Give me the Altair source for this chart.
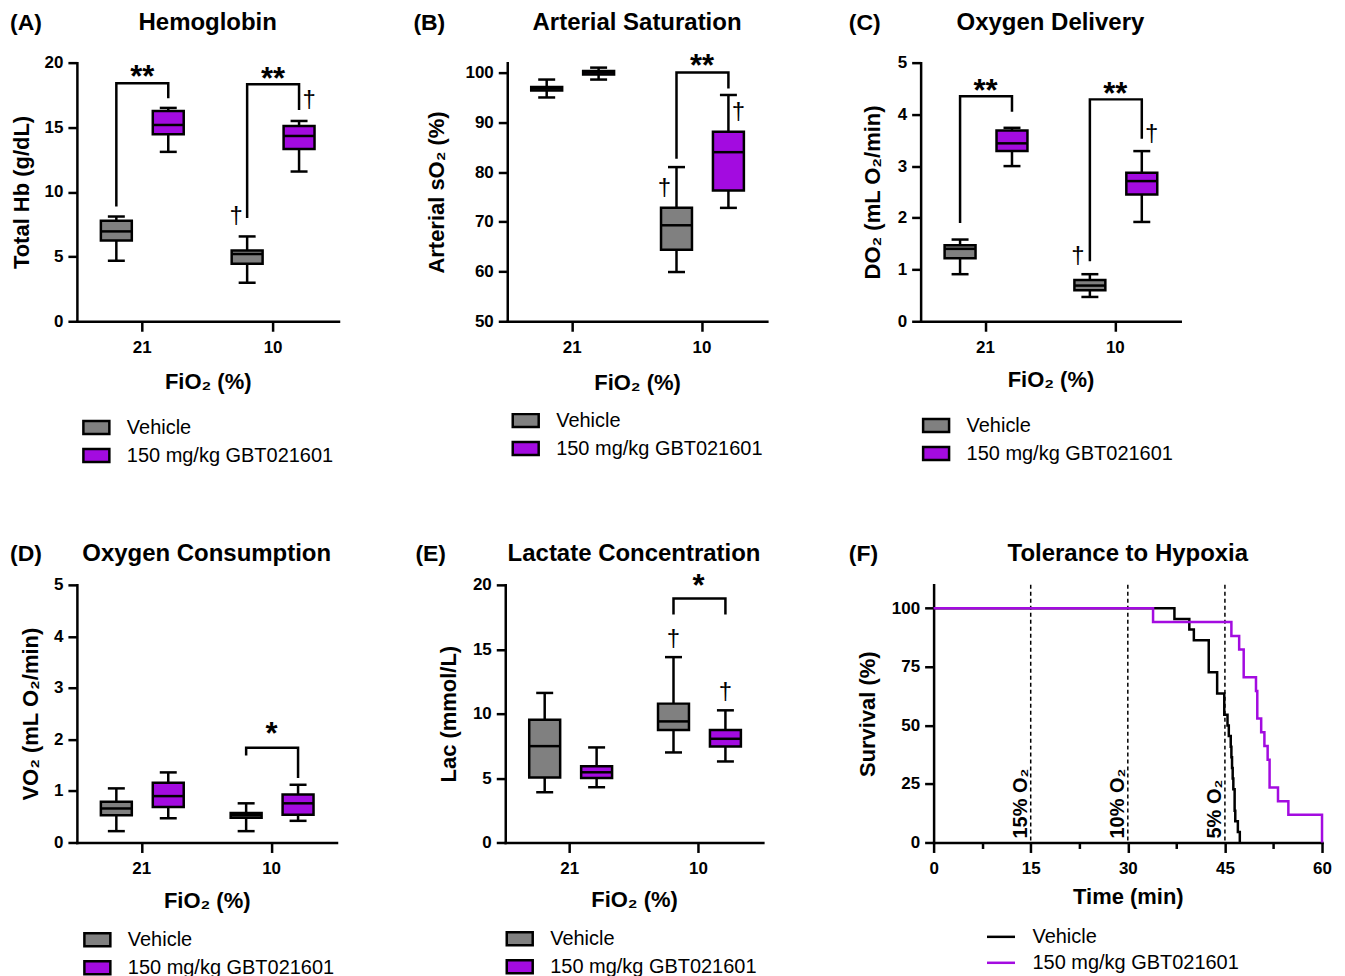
import altair as alt
import pandas as pd

FONT = "Liberation Sans"
GRAY = "#808080"
PURPLE = "#A30BE0"
VEH = "Vehicle"
GBT = "150 mg/kg GBT021601"
GROUPS = [VEH, GBT]
FIO2 = ["21", "10"]

# box order: (21, Vehicle), (21, GBT), (10, Vehicle), (10, GBT)
BOX_FIO2 = ["21", "21", "10", "10"]
BOX_GROUP = [VEH, GBT, VEH, GBT]

HB_MIN = [4.68, 13.1, 2.98, 11.58]
HB_Q1 = [6.25, 14.46, 4.45, 13.33]
HB_MED = [6.95, 15.18, 5.2, 14.33]
HB_Q3 = [7.77, 16.26, 5.48, 15.1]
HB_MAX = [8.1, 16.5, 6.56, 15.49]

SAT_MIN = [95.0, 98.6, 59.9, 72.8]
SAT_Q1 = [96.4, 99.6, 64.4, 76.3]
SAT_MED = [96.8, 100.0, 69.3, 84.0]
SAT_Q3 = [97.1, 100.3, 72.8, 88.1]
SAT_MAX = [98.6, 101.0, 81.0, 95.5]

DO2_MIN = [0.91, 3.0, 0.47, 1.92]
DO2_Q1 = [1.22, 3.29, 0.60, 2.45]
DO2_MED = [1.40, 3.44, 0.69, 2.71]
DO2_Q3 = [1.47, 3.69, 0.80, 2.87]
DO2_MAX = [1.58, 3.74, 0.91, 3.29]

VO2_MIN = [0.22, 0.47, 0.22, 0.42]
VO2_Q1 = [0.53, 0.69, 0.48, 0.54]
VO2_MED = [0.66, 0.90, 0.53, 0.76]
VO2_Q3 = [0.79, 1.16, 0.57, 0.93]
VO2_MAX = [1.05, 1.36, 0.76, 1.12]

LAC_MIN = [3.9, 4.29, 6.99, 6.29]
LAC_Q1 = [5.04, 5.01, 8.73, 7.45]
LAC_MED = [7.48, 5.45, 9.40, 8.05]
LAC_Q3 = [9.53, 5.92, 10.78, 8.73]
LAC_MAX = [11.61, 7.38, 14.39, 10.26]

# significance brackets: fio2, start (vehicle side), top, end (GBT side), star label, star y
HB_BR = dict(fio2=["21", "10"], start=[8.88, 7.98], top=[18.4, 18.33], end=[17.25, 16.34],
             star=["**", "**"], stary=[18.8, 18.65])
SAT_BR = dict(fio2=["10"], start=[82.7], top=[100.0], end=[96.8], star=["**"], stary=[101.1])
DO2_BR = dict(fio2=["21", "10"], start=[1.90, 1.16], top=[4.35, 4.29], end=[4.05, 3.53],
              star=["**", "**"], stary=[4.43, 4.37])
VO2_BR = dict(fio2=["10"], start=[1.69], top=[1.84], end=[1.25], star=["*"], stary=[2.08])
LAC_BR = dict(fio2=["10"], start=[17.7], top=[18.94], end=[17.7], star=["*"], stary=[19.8])

# daggers: fio2, group, y
HB_DAG = dict(fio2=["10", "10"], group=[VEH, GBT], y=[8.13, 17.1])
SAT_DAG = dict(fio2=["10", "10"], group=[VEH, GBT], y=[76.7, 92.0])
DO2_DAG = dict(fio2=["10", "10"], group=[VEH, GBT], y=[1.27, 3.62])
VO2_DAG = dict(fio2=[], group=[], y=[])
LAC_DAG = dict(fio2=["10", "10"], group=[VEH, GBT], y=[15.8, 11.7])

# survival curves (Kaplan-Meier)
VEH_T = [0, 37.2, 39.5, 40.2, 42.5, 43.8, 44.9, 45.4, 45.6, 45.9, 46.0, 46.1, 46.2, 46.3, 46.5, 46.6, 47.0, 47.3]
VEH_S = [100, 95.45, 90.9, 86.4, 72.7, 63.6, 54.5, 50.0, 45.5, 40.9, 36.4, 31.8, 27.3, 22.7, 13.6, 9.1, 4.5, 0]
GBT_T = [0, 33.9, 46.0, 47.2, 47.9, 49.8, 50.0, 50.6, 51.1, 51.6, 51.9, 53.2, 54.8, 60.0]
GBT_S = [100, 94.1, 88.2, 82.4, 70.6, 64.7, 52.9, 47.1, 41.2, 35.3, 23.5, 17.6, 11.8, 0]
O2_T = [15, 30, 45]
O2_LABEL = ["15% O₂", "10% O₂", "5% O₂"]

RECT = "M-1,-0.5H1V0.5H-1Z"


def header(w, ty, title, letter, letter_x):
    t1 = alt.Chart(pd.DataFrame({"t": [title]})).mark_text(
        fontSize=24, fontWeight="bold", align="center", baseline="middle", color="black"
    ).encode(x=alt.value(w / 2), y=alt.value(ty), text="t:N")
    t2 = alt.Chart(pd.DataFrame({"t": [letter]})).mark_text(
        fontSize=23, fontWeight="bold", align="left", baseline="middle", color="black"
    ).encode(x=alt.value(letter_x), y=alt.value(ty), text="t:N")
    return [t1, t2]


def box_panel(stats, br, dag, s):
    w, h = s["w"], s["h"]
    mn, q1, md, q3, mx = stats
    df = pd.DataFrame({"fio2": BOX_FIO2, "group": BOX_GROUP, "mn": mn, "q1": q1,
                       "md": md, "q3": q3, "mx": mx})
    xenc = alt.X("fio2:N", sort=FIO2,
                 scale=alt.Scale(domain=FIO2, paddingInner=0, paddingOuter=0),
                 axis=alt.Axis(title="FiO₂ (%)", labelAngle=0, tickSize=10, labelPadding=8,
                               titleY=s["xty"], titleBaseline="middle"))
    xoff = alt.XOffset("group:N", sort=GROUPS,
                       scale=alt.Scale(domain=GROUPS, paddingInner=0.404, paddingOuter=0.4617))
    ysc = alt.Scale(domain=s["ydom"], nice=False, zero=False)
    yax = alt.Axis(title=s["ytitle"], values=s["yticks"], tickSize=9, labelPadding=5,
                   titleX=s["ytx"], titleBaseline="middle")

    def Y(f):
        return alt.Y(f, type="quantitative", scale=ysc, axis=yax)

    base = alt.Chart(df)
    whisk = base.mark_rule(strokeWidth=2.5, color="black").encode(
        x=xenc, xOffset=xoff, y=Y("mn"), y2="mx:Q")
    box = base.mark_bar(stroke="black", strokeWidth=2.5, opacity=1).encode(
        x=xenc, xOffset=xoff, y=Y("q1"), y2="q3:Q",
        fill=alt.Fill("group:N", scale=alt.Scale(domain=GROUPS, range=[GRAY, PURPLE]),
                      legend=alt.Legend(orient="none", legendX=s["lx"], legendY=s["ly"], title=None,
                                        symbolType=RECT, symbolSize=676, symbolStrokeColor="black",
                                        symbolStrokeWidth=2.5, symbolOpacity=1,
                                        labelFontSize=20, labelFont=FONT, labelFontWeight="normal",
                                        labelOffset=16, rowPadding=2, padding=0, labelLimit=500,
                                        labelColor="black")))
    med = base.mark_tick(size=31, thickness=2.5, color="black", opacity=1).encode(
        x=xenc, xOffset=xoff, y=Y("md"))
    cap1 = base.mark_tick(size=17, thickness=2.5, color="black", opacity=1).encode(
        x=xenc, xOffset=xoff, y=Y("mn"))
    cap2 = base.mark_tick(size=17, thickness=2.5, color="black", opacity=1).encode(
        x=xenc, xOffset=xoff, y=Y("mx"))

    rows = []
    for i, (f, a, t, e) in enumerate(zip(br["fio2"], br["start"], br["top"], br["end"])):
        rows += [dict(b=i, fio2=f, group=VEH, y=a, o=0), dict(b=i, fio2=f, group=VEH, y=t, o=1),
                 dict(b=i, fio2=f, group=GBT, y=t, o=2), dict(b=i, fio2=f, group=GBT, y=e, o=3)]
    brk = alt.Chart(pd.DataFrame(rows)).mark_line(strokeWidth=2.5, color="black", strokeJoin="miter").encode(
        x=xenc, xOffset=xoff, y=Y("y"), detail="b:N", order="o:Q")
    stars = alt.Chart(pd.DataFrame({"fio2": br["fio2"], "y": br["stary"], "t": br["star"]})).mark_text(
        fontSize=31, fontWeight="bold", baseline="middle", color="black").encode(
        x=xenc, y=Y("y"), text="t:N")
    layers = [whisk, box, med, cap1, cap2, brk, stars]
    ddf = pd.DataFrame({"fio2": dag["fio2"], "group": dag["group"], "y": dag["y"]})
    if len(ddf):
        for g, dx in ((VEH, s["ddx"][0]), (GBT, s["ddx"][1])):
            sub = ddf[ddf["group"] == g]
            layers.append(alt.Chart(sub).mark_text(text="†", fontSize=24, baseline="middle",
                                                   color="black", dx=dx).encode(
                x=xenc, xOffset=xoff, y=Y("y")))
    layers += header(w, s["hy"], s["title"], s["letter"], s["letx"])
    return alt.layer(*layers).properties(width=w, height=h)


def surv_panel(s):
    w, h = s["w"], s["h"]
    df = pd.DataFrame({"time": VEH_T + GBT_T, "surv": VEH_S + GBT_S,
                       "group": [VEH] * len(VEH_T) + [GBT] * len(GBT_T)})
    xsc = alt.Scale(domain=[0, 60], nice=False)
    xax = alt.Axis(title="Time (min)", values=[0, 7.5, 15, 22.5, 30, 37.5, 45, 52.5, 60],
                   labelExpr="datum.value % 15 === 0 ? datum.label : ''",
                   tickSize={"condition": {"test": "datum.value % 15 === 0", "value": 10}, "value": 6},
                   labelPadding=8, titleY=s["xty"], titleBaseline="middle", labelFlush=False)
    ysc = alt.Scale(domain=[0, 110], nice=False)
    yax = alt.Axis(title="Survival (%)", values=[0, 25, 50, 75, 100], tickSize=9, labelPadding=5,
                   titleX=s["ytx"], titleBaseline="middle")
    o2 = pd.DataFrame({"time": O2_T, "lab": O2_LABEL})
    rules = alt.Chart(o2).mark_rule(strokeDash=[4, 3], strokeWidth=1.5, color="black").encode(
        x=alt.X("time:Q", scale=xsc, axis=xax))
    labs = alt.Chart(o2).mark_text(angle=270, align="left", baseline="bottom", fontSize=20,
                                   fontWeight="bold", color="black").encode(
        x=alt.X("time:Q", scale=xsc, axis=xax), y=alt.value(h - 4), text="lab:N")
    lines = alt.Chart(df).mark_line(interpolate="step-after", strokeWidth=2.5).encode(
        x=alt.X("time:Q", scale=xsc, axis=xax),
        y=alt.Y("surv:Q", scale=ysc, axis=yax),
        stroke=alt.Stroke("group:N", scale=alt.Scale(domain=GROUPS, range=["black", PURPLE]),
                          legend=alt.Legend(orient="none", legendX=s["lx"], legendY=s["ly"], title=None,
                                            symbolType="stroke", symbolSize=784, symbolStrokeWidth=2.5,
                                            labelFontSize=20, labelFont=FONT, labelFontWeight="normal",
                                            labelOffset=16, rowPadding=-1, padding=0, labelLimit=500,
                                            labelColor="black")))
    layers = [rules, labs, lines] + header(w, s["hy"], s["title"], s["letter"], s["letx"])
    return alt.layer(*layers).properties(width=w, height=h)


A = box_panel((HB_MIN, HB_Q1, HB_MED, HB_Q3, HB_MAX), HB_BR, HB_DAG, dict(
    w=262, h=259, ydom=[0, 20], yticks=[0, 5, 10, 15, 20], ytitle="Total Hb (g/dL)", ytx=-55,
    xty=60, lx=5, ly=351, ddx=(-11, 10), hy=-40, title="Hemoglobin", letter="(A)", letx=-67))
B = box_panel((SAT_MIN, SAT_Q1, SAT_MED, SAT_Q3, SAT_MAX), SAT_BR, SAT_DAG, dict(
    w=260, h=259, ydom=[50, 102], yticks=[50, 60, 70, 80, 90, 100], ytitle="Arterial sO₂ (%)", ytx=-71,
    xty=61, lx=4, ly=344, ddx=(-12, 10), hy=-40, title="Arterial Saturation", letter="(B)", letx=-94))
C = box_panel((DO2_MIN, DO2_Q1, DO2_MED, DO2_Q3, DO2_MAX), DO2_BR, DO2_DAG, dict(
    w=260, h=259, ydom=[0, 5], yticks=[0, 1, 2, 3, 4, 5], ytitle="DO₂ (mL O₂/min)", ytx=-48,
    xty=58, lx=1, ly=349, ddx=(-12, 10), hy=-40, title="Oxygen Delivery", letter="(C)", letx=-72))
D = box_panel((VO2_MIN, VO2_Q1, VO2_MED, VO2_Q3, VO2_MAX), VO2_BR, VO2_DAG, dict(
    w=260, h=258, ydom=[0, 5], yticks=[0, 1, 2, 3, 4, 5], ytitle="VO₂ (mL O₂/min)", ytx=-46,
    xty=58, lx=6, ly=341, ddx=(0, 0), hy=-31, title="Oxygen Consumption", letter="(D)", letx=-67))
E = box_panel((LAC_MIN, LAC_Q1, LAC_MED, LAC_Q3, LAC_MAX), LAC_BR, LAC_DAG, dict(
    w=258, h=258, ydom=[0, 20], yticks=[0, 5, 10, 15, 20], ytitle="Lac (mmol/L)", ytx=-57,
    xty=57, lx=0, ly=340, ddx=(0, 0), hy=-31, title="Lactate Concentration", letter="(E)", letx=-90))
F = surv_panel(dict(w=389, h=258, ytx=-66, xty=54, lx=52, ly=337, hy=-31,
                    title="Tolerance to Hypoxia", letter="(F)", letx=-85))

RES = dict(fill="independent", stroke="independent")


def hc(a, b, sp):
    return alt.hconcat(a, b, spacing=sp, bounds="flush").resolve_scale(**RES).resolve_legend(**RES)


row1 = hc(A, hc(B, C, 154), 169)
row2 = hc(D, hc(E, F, 171), 169)
# nested concat rows count as zero height under "flush", so spacing includes row 1's plot height
chart = alt.vconcat(row1, row2, spacing=523, bounds="flush").resolve_scale(**RES).resolve_legend(**RES)

chart = chart.properties(
    padding={"left": 2, "top": 2, "right": 5, "bottom": 5}, background="white"
).configure_view(stroke=None).configure_axis(
    domainColor="black", domainWidth=2.5, domainCap="square", tickColor="black", tickWidth=2.5,
    labelFont=FONT, labelFontWeight="bold", labelFontSize=17, labelColor="black",
    titleFont=FONT, titleFontWeight="bold", titleFontSize=22, titleColor="black", grid=False
).configure_text(font=FONT).configure_legend(labelFont=FONT)

chart.save("out.html", embed_options={"renderer": "svg", "actions": False})
